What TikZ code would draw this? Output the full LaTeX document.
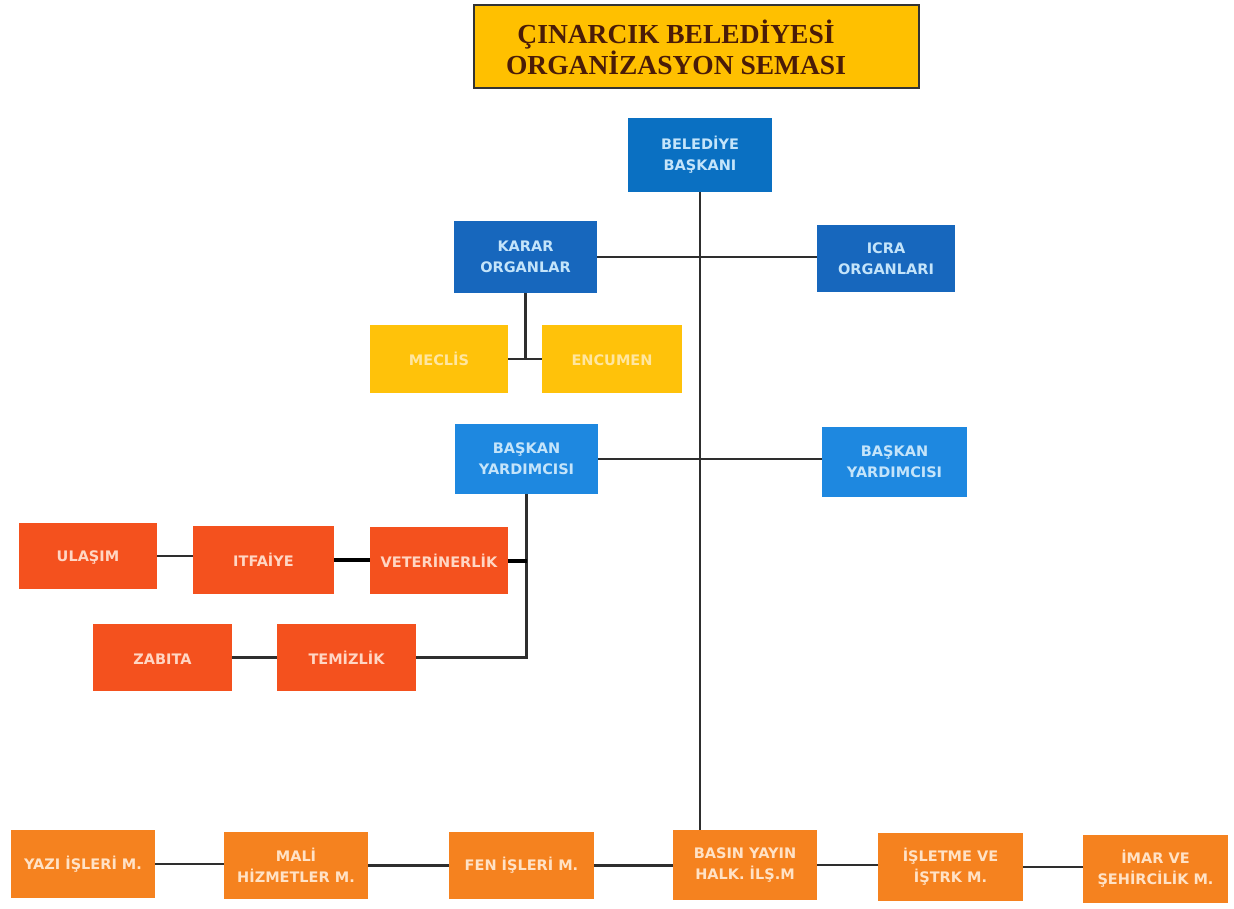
\documentclass[tikz,border=0pt]{standalone}
\usepackage{fontspec}
\setmainfont{DejaVu Sans}
\newfontfamily\titlefont{Liberation Serif}
\definecolor{titlefill}{HTML}{FFC000}
\definecolor{titletext}{HTML}{4A1C08}
\definecolor{bluetop}{HTML}{0A70C2}
\definecolor{bluedark}{HTML}{1767BD}
\definecolor{bluelight}{HTML}{1E88E0}
\definecolor{bluetext}{HTML}{C4E4FA}
\definecolor{goldbox}{HTML}{FFC20A}
\definecolor{goldtext}{HTML}{FFE6A0}
\definecolor{redbox}{HTML}{F4511E}
\definecolor{redtext}{HTML}{FFD6C4}
\definecolor{orangebox}{HTML}{F5821F}
\definecolor{orangetext}{HTML}{FFE2C6}
\definecolor{linecol}{HTML}{2E2E2E}
\tikzset{
  box/.style={rectangle, draw=none, inner sep=0pt, align=center,
    font=\fontsize{14.5}{21}\selectfont\bfseries},
  bluetopbox/.style={box, fill=bluetop, text=bluetext},
  bluedarkbox/.style={box, fill=bluedark, text=bluetext},
  bluelightbox/.style={box, fill=bluelight, text=bluetext},
  goldbx/.style={box, fill=goldbox, text=goldtext},
  redbx/.style={box, fill=redbox, text=redtext},
  orangebx/.style={box, fill=orangebox, text=orangetext},
  conn/.style={draw=linecol, line width=2.6pt},
  thickconn/.style={draw=black, line width=4pt},
}
\begin{document}
\begin{tikzpicture}[x=1pt,y=-1pt]
\useasboundingbox[fill=white] (0,0) rectangle (1234,908);
% title
\node[rectangle, fill=titlefill, draw=black!80, line width=1.6pt,
      minimum width=445pt, minimum height=83pt, inner sep=0pt] (title) at (696.5,46.5) {};
\node[align=center, text=titletext, inner sep=0pt,
      font=\titlefont\fontsize{27.5}{31}\selectfont\bfseries] (titletxt) at (676,47)
      {ÇINARCIK BELEDİYESİ\\ORGANİZASYON SEMASI};
% top
\node[bluetopbox, minimum width=144pt, minimum height=74pt] (bel) at (700,155) {BELEDİYE\\BAŞKANI};
\node[bluedarkbox, minimum width=143pt, minimum height=72pt] (karar) at (525.5,257) {KARAR\\ORGANLAR};
\node[bluedarkbox, minimum width=138pt, minimum height=67pt] (icra) at (886,258.5) {ICRA\\ORGANLARI};
\node[goldbx, minimum width=138pt, minimum height=68pt] (meclis) at (439,359) {MECLİS};
\node[goldbx, minimum width=140pt, minimum height=68pt] (encumen) at (612,359) {\vphantom{İ}ENCUMEN};
\node[bluelightbox, minimum width=143pt, minimum height=70pt] (by1) at (526.5,459) {BAŞKAN\\YARDIMCISI};
\node[bluelightbox, minimum width=145pt, minimum height=70pt] (by2) at (894.5,462) {BAŞKAN\\YARDIMCISI};
% red boxes
\node[redbx, minimum width=138pt, minimum height=66pt] (ulasim) at (88,556) {\vphantom{İ}ULAŞIM};
\node[redbx, minimum width=141pt, minimum height=68pt] (itfaiye) at (263.5,560) {ITFAİYE};
\node[redbx, minimum width=138pt, minimum height=67pt] (veteriner) at (439,560.5) {VETERİNERLİK};
\node[redbx, minimum width=139pt, minimum height=67pt] (zabita) at (162.5,657.5) {\vphantom{İ}ZABITA};
\node[redbx, minimum width=139pt, minimum height=67pt] (temizlik) at (346.5,657.5) {TEMİZLİK};
% bottom row
\node[orangebx, minimum width=144pt, minimum height=68pt] (yazi) at (83,864) {YAZI İŞLERİ M.};
\node[orangebx, minimum width=144pt, minimum height=67pt] (mali) at (296,865.5) {MALİ\\HİZMETLER M.};
\node[orangebx, minimum width=145pt, minimum height=67pt] (fen) at (521.5,865.5) {FEN İŞLERİ M.};
\node[orangebx, minimum width=144pt, minimum height=70pt] (basin) at (745,865) {BASIN YAYIN\\HALK. İLŞ.M};
\node[orangebx, minimum width=145pt, minimum height=68pt] (isletme) at (950.5,867) {İŞLETME VE\\İŞTRK M.};
\node[orangebx, minimum width=145pt, minimum height=68pt] (imar) at (1155.5,869) {İMAR VE\\ŞEHİRCİLİK M.};
% connectors
\coordinate (kj) at (karar.south |- meclis.east);
\coordinate (bj) at (by1.south |- temizlik.east);
\draw[conn] (bel.south) -- (bel.south |- basin.north);
\draw[conn] (karar.east) -- (karar.east -| icra.west);
\draw[conn] (karar.south) -- (kj);
\draw[conn] (meclis.east) -- (encumen.west);
\draw[conn] (by1.east) -- (by1.east -| by2.west);
\draw[conn] (by1.south) -- (bj) -- (temizlik.east);
\draw[thickconn] (veteriner.east) -- (veteriner.east -| bj);
\draw[conn] (ulasim.east) -- (ulasim.east -| itfaiye.west);
\draw[thickconn] (itfaiye.east) -- (itfaiye.east -| veteriner.west);
\draw[conn] (zabita.east) -- (temizlik.west);
\draw[conn] (yazi.east) -- (yazi.east -| mali.west);
\draw[conn] (mali.east) -- (mali.east -| fen.west);
\draw[conn] (fen.east) -- (fen.east -| basin.west);
\draw[conn] (basin.east) -- (basin.east -| isletme.west);
\draw[conn] (isletme.east) -- (isletme.east -| imar.west);
\end{tikzpicture}
\end{document}
